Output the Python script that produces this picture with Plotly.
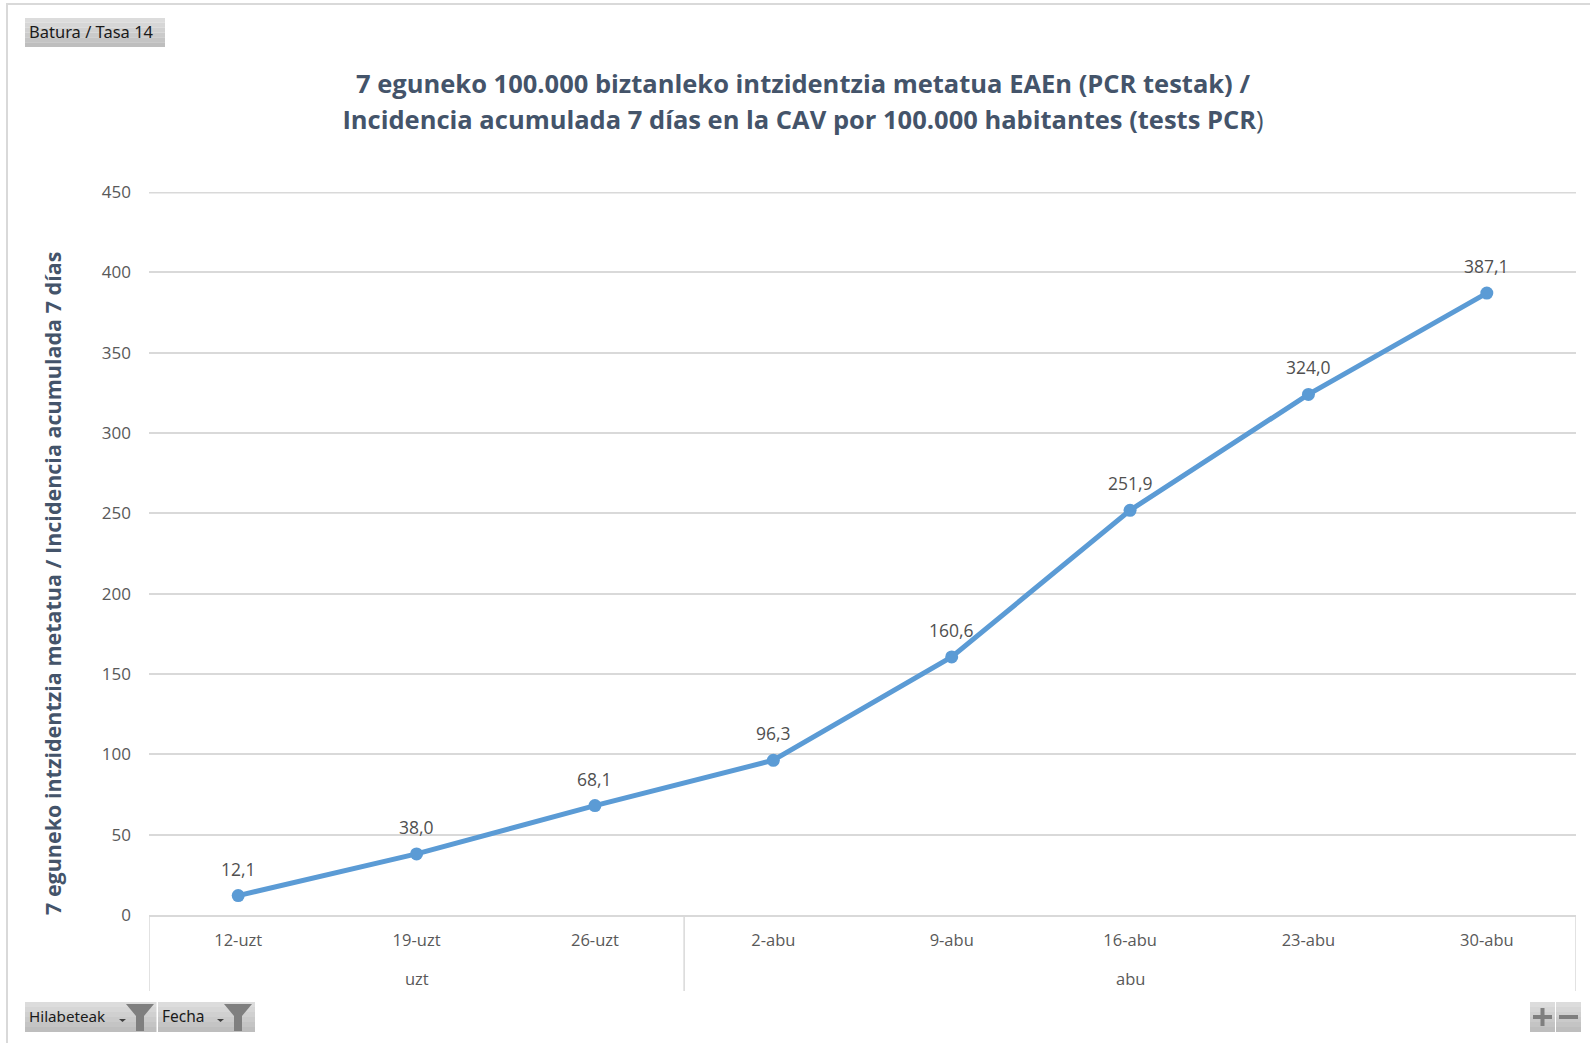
import plotly.graph_objects as go

dates = ["12-uzt", "19-uzt", "26-uzt", "2-abu", "9-abu", "16-abu", "23-abu", "30-abu"]
values = [12.1, 38.0, 68.1, 96.3, 160.6, 251.9, 324.0, 387.1]
months = ["uzt", "abu"]
month_centers = ["19-uzt", "16-abu"]
y_ticks = [0, 50, 100, 150, 200, 250, 300, 350, 400, 450]

W, H = 1590, 1043
L, R, T, B = 149, 1576, 192, 915
FONT = "Open Sans"
BTN = "Noto Sans"
GRID = "#D9D9D9"
DARK = "#44546A"
TICK = "#595959"


def px(x):
    return (x - L) / (R - L)


def py(y):
    return (B - y) / (B - T)


shapes = []
annots = []


def rect(x0, y0, x1, y1, color):
    shapes.append(dict(type="rect", xref="paper", yref="paper", x0=px(x0), x1=px(x1),
                       y0=py(y0), y1=py(y1), fillcolor=color, line_width=0, layer="below"))


def poly(points, color):
    path = "M" + " L".join(f"{px(a):.5f} {py(b):.5f}" for a, b in points) + " Z"
    shapes.append(dict(type="path", xref="paper", yref="paper", path=path,
                       fillcolor=color, line_width=0))


def button(x0, y0, x1, y1):
    shades = ["#DCDCDC", "#D6D6D6", "#D0D0D0", "#CACACA", "#C4C4C4", "#BEBEBE"]
    n = len(shades)
    h = (y1 - y0) / n
    for i, c in enumerate(shades):
        rect(x0, y0 + i * h, x1, y0 + (i + 1) * h, c)


def label(x, y, text, size=16.5):
    annots.append(dict(xref="paper", yref="paper", x=px(x), y=py(y), text=text, showarrow=False,
                       xanchor="left", yanchor="middle", xshift=-2,
                       font=dict(family=BTN, size=size, color="#1a1a1a")))


def funnel(cx, y0):
    poly([(cx - 14, y0 + 2), (cx + 14, y0 + 2), (cx + 4, y0 + 14), (cx + 4, y0 + 29), (cx - 4, y0 + 29), (cx - 4, y0 + 14)], "#7F7F7F")
    poly([(cx - 21, y0 + 17), (cx - 14, y0 + 17), (cx - 17.5, y0 + 20)], "#404040")


# outer frame
rect(6, 3, 8, H, GRID)
rect(6, 3, W, 5, GRID)

# pivot buttons
button(25, 18, 165, 47)
label(29, 32, "Batura / Tasa 14")
button(25, 1002, 156.5, 1032)
label(29, 1016, "Hilabeteak", size=15.2)
funnel(140, 1002)
button(158, 1002, 255, 1032)
label(162, 1016, "Fecha", size=15.5)
funnel(238, 1002)
button(1530, 1002, 1555, 1032)
button(1556, 1002, 1581, 1032)
rect(1533, 1015, 1552, 1019, "#7F7F7F")
rect(1540.5, 1008, 1544.5, 1026, "#7F7F7F")
rect(1559, 1015, 1578, 1019, "#7F7F7F")

# top gridline sits on the axis limit, where plotly omits it (half of it is clipped)
shapes.append(dict(type="line", xref="paper", yref="y", x0=0, x1=1, y0=y_ticks[-1], y1=y_ticks[-1],
                   line=dict(color=GRID, width=3), layer="below"))

# category dividers below the axis
for pos in (-0.5, 2.5, 7.5):
    shapes.append(dict(type="line", xref="x", yref="paper", x0=pos, x1=pos, y0=0, y1=py(991),
                       line=dict(color=GRID, width=1.5)))

# month labels
for m, c in zip(months, month_centers):
    annots.append(dict(xref="x", yref="paper", x=c, y=py(979), text=m, showarrow=False,
                       xanchor="center", yanchor="middle", font=dict(family=FONT, size=16.5, color=TICK)))

# data labels
for d, v in zip(dates, values):
    annots.append(dict(xref="x", yref="y", x=d, y=v, text=f"{v:.1f}".replace(".", ","), showarrow=False,
                       xanchor="center", yanchor="middle", yshift=27,
                       font=dict(family=FONT, size=17.5, color="#505050")))

# y axis title
annots.append(dict(xref="paper", yref="paper", x=px(52), y=py(584), textangle=-90,
                   text="<b>7 eguneko intzidentzia metatua / Incidencia acumulada 7 días</b>",
                   showarrow=False, xanchor="center", yanchor="middle",
                   font=dict(family=FONT, size=21.5, color=DARK)))

fig = go.Figure(go.Scatter(
    x=dates, y=values, mode="lines+markers",
    line=dict(color="#5B9BD5", width=5, shape="linear"),
    marker=dict(color="#5B9BD5", size=13),
    cliponaxis=False, hoverinfo="x+y",
))
ts = "font-size:25.5px"
fig.update_layout(
    width=W, height=H, autosize=False,
    margin=dict(l=L, r=W - R, t=T, b=H - B),
    paper_bgcolor="white", plot_bgcolor="white",
    showlegend=False,
    title=dict(
        text=f"<span style='{ts}'><b>7 eguneko 100.000 biztanleko intzidentzia metatua EAEn (PCR testak) /</b></span><br>"
             f"<span style='{ts}'><b>Incidencia acumulada 7 días en la CAV por 100.000 habitantes (tests PCR</b>)</span>",
        x=803 / W, xanchor="center", y=1 - 92.5 / H, yanchor="middle",
        font=dict(family=FONT, size=28, color=DARK),
    ),
    xaxis=dict(type="category", categoryorder="array", categoryarray=dates, range=[-0.5, 7.5],
               showgrid=False, showline=True, linecolor=GRID, linewidth=2, ticks="",
               tickfont=dict(family=FONT, size=16.5, color=TICK), ticklabelstandoff=9),
    yaxis=dict(range=[0, 450], tickvals=y_ticks, showgrid=True, gridcolor=GRID, gridwidth=1.5,
               zeroline=False, showline=False, ticks="", ticklabelstandoff=17,
               tickfont=dict(family=FONT, size=17, color=TICK)),
    shapes=shapes, annotations=annots,
)
fig.write_html("out.html", config=dict(displayModeBar=False),
               post_script="document.body.style.margin='0';document.body.style.overflow='hidden';")
